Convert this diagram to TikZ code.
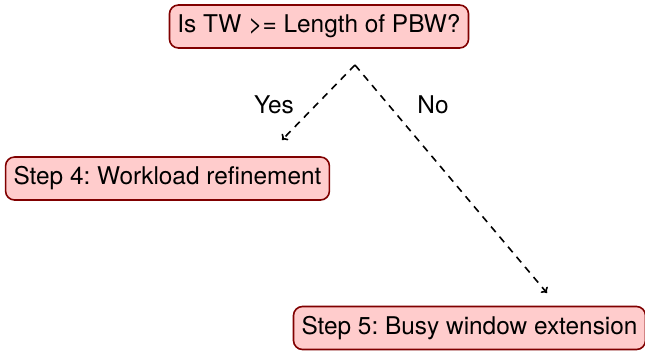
\documentclass[tikz,border=0pt]{standalone}
\usepackage{fontspec}
\setmainfont{TeX Gyre Heros}
\usetikzlibrary{arrows.meta,positioning}

\begin{document}
\frenchspacing
\begin{tikzpicture}[x=1pt,y=1pt,
  font=\fontsize{12.2}{14}\selectfont,
  box/.style={draw=red!50!black,fill=red!20,line width=0.8pt,rounded corners=4.5pt,
    minimum height=21.5pt,inner xsep=4pt,align=center},
  arr/.style={-{To[length=2.5pt,width=4.5pt]},dash pattern=on 3.6pt off 3pt,line width=0.8pt}]
\useasboundingbox (0,0) rectangle (322.5,-175);
\node[box] (q) at (159.5,-13.25) {Is TW >= Length of PBW?};
\node[box] (s4) at (83.75,-89.25) {Step 4: Workload refinement};
\node[box] (s5) at (234.75,-164) {Step 5: Busy window extension};
\coordinate (fork) at (177.5,-32.5);
\coordinate (yes) at (141,-70);
\coordinate (no) at (273.5,-146.5);
\draw[arr](fork)--(yes);\draw[arr](fork)--(no);
\node (ly) at (137,-52.5) {Yes};
\node (ln) at (216.5,-52.5) {No};
\end{tikzpicture}
\end{document}
